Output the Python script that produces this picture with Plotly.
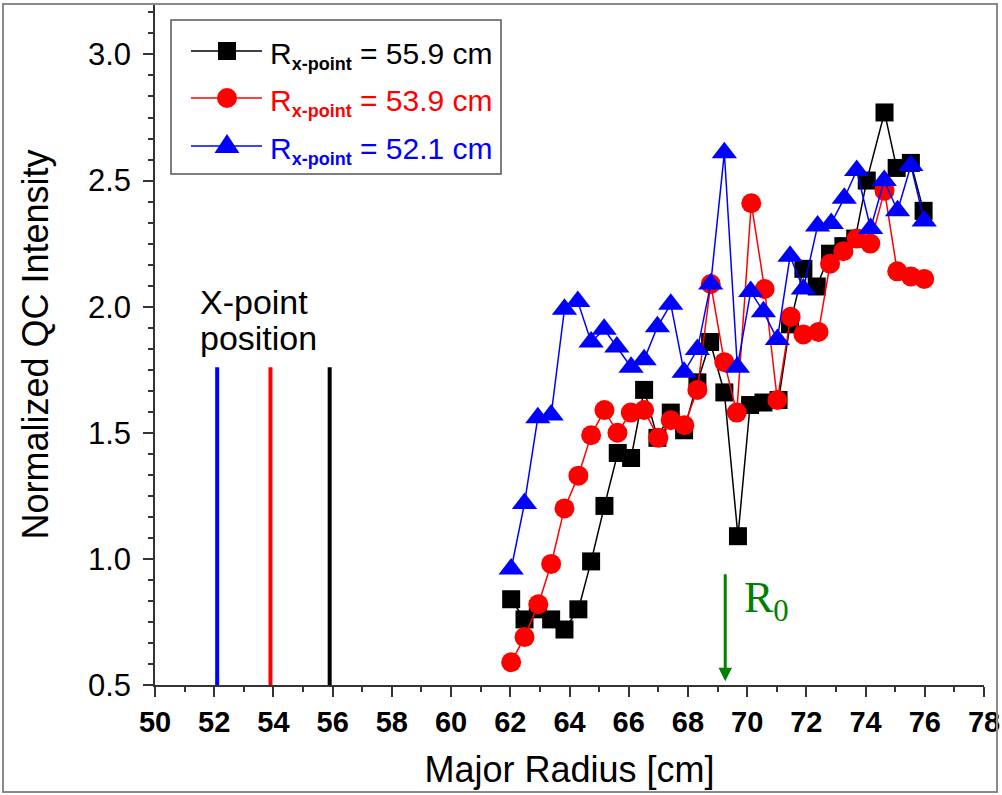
import plotly.graph_objects as go

# ---------------- data ----------------
black_x = [62.03, 62.48, 62.93, 63.38, 63.83, 64.30, 64.73, 65.18, 65.63, 66.08, 66.52, 66.97,
           67.42, 67.87, 68.32, 68.75, 69.23, 69.69, 70.10, 70.55, 71.06, 71.45, 71.90, 72.35,
           72.80, 73.25, 73.65, 74.04, 74.64, 75.05, 75.53, 75.96]
black_y = [0.84, 0.76, 0.80, 0.76, 0.72, 0.80, 0.99, 1.21, 1.42, 1.40, 1.67, 1.48,
           1.58, 1.51, 1.70, 1.86, 1.66, 1.09, 1.61, 1.62, 1.63, 1.93, 2.15, 2.08,
           2.21, 2.24, 2.27, 2.50, 2.77, 2.55, 2.57, 2.38]

red_x = [62.03, 62.48, 62.95, 63.38, 63.83, 64.30, 64.73, 65.18, 65.62, 66.07, 66.52, 67.00,
         67.42, 67.88, 68.32, 68.77, 69.23, 69.65, 70.14, 70.59, 71.02, 71.47, 71.90, 72.41,
         72.80, 73.25, 73.70, 74.16, 74.64, 75.07, 75.53, 75.98]
red_y = [0.59, 0.69, 0.82, 0.98, 1.20, 1.33, 1.49, 1.59, 1.50, 1.58, 1.59, 1.48,
         1.55, 1.53, 1.67, 2.09, 1.78, 1.58, 2.41, 2.07, 1.63, 1.96, 1.89, 1.90,
         2.17, 2.22, 2.27, 2.25, 2.46, 2.14, 2.12, 2.11]

blue_x = [62.03, 62.48, 62.93, 63.38, 63.83, 64.28, 64.73, 65.17, 65.60, 66.08, 66.52, 66.97,
          67.42, 67.87, 68.32, 68.77, 69.23, 69.67, 70.12, 70.55, 71.02, 71.45, 71.90, 72.38,
          72.84, 73.28, 73.70, 74.17, 74.63, 75.08, 75.53, 75.98]
blue_y = [0.96, 1.22, 1.56, 1.57, 1.99, 2.02, 1.86, 1.91, 1.84, 1.76, 1.79, 1.92,
          2.01, 1.74, 1.83, 2.09, 2.61, 1.76, 2.06, 1.98, 1.87, 2.20, 2.07, 2.32,
          2.33, 2.43, 2.54, 2.31, 2.50, 2.38, 2.56, 2.34]

series_names = ["55.9", "53.9", "52.1"]
series_colors = ["#000000", "#ff0000", "#0000ff"]
series_symbols = ["square", "circle", "triangle-up"]
series_sizes = [18, 20, 22]

xpoint_positions = [52.1, 53.9, 55.9]
xpoint_colors = ["#0000ff", "#ff0000", "#000000"]
xpoint_line_top = 1.76

r0_position = 69.26
r0_arrow_top = 0.945
r0_arrow_tip = 0.515

x_ticks = list(range(50, 79, 2))
y_ticks = [0.5, 1.0, 1.5, 2.0, 2.5, 3.0]

# ---------------- layout geometry (pixels) ----------------
W, H = 1002, 795
ML, MR, MT, MB = 155, 18, 4, 110
PW = W - ML - MR
PH = H - MT - MB


def px(xp):
    return (xp - ML) / PW


def py(yp):
    return (H - MB - yp) / PH


FONT = "Liberation Sans, Arial, sans-serif"

fig = go.Figure()

xs = [black_x, red_x, blue_x]
ys = [black_y, red_y, blue_y]
for i in range(3):
    fig.add_trace(go.Scatter(
        x=xs[i], y=ys[i], mode="lines+markers",
        line=dict(color=series_colors[i], width=1.5),
        marker=dict(symbol=series_symbols[i], size=series_sizes[i], color=series_colors[i],
                    line=dict(width=0)),
        name="R<sub>x-point</sub> = %s cm" % series_names[i],
        showlegend=False,
    ))

shapes = []
annotations = []

# X-point position vertical bars
for xv, c in zip(xpoint_positions, xpoint_colors):
    shapes.append(dict(type="line", xref="x", yref="y", x0=xv, x1=xv, y0=0.5, y1=xpoint_line_top,
                       line=dict(color=c, width=4)))

annotations.append(dict(xref="paper", yref="paper", x=px(198), y=py(302), text="X-point",
                        showarrow=False, xanchor="left", yanchor="middle",
                        font=dict(family=FONT, size=34, color="black")))
annotations.append(dict(xref="paper", yref="paper", x=px(198), y=py(338), text="position",
                        showarrow=False, xanchor="left", yanchor="middle",
                        font=dict(family=FONT, size=34, color="black")))

# R0 arrow
annotations.append(dict(x=r0_position, y=r0_arrow_tip, ax=r0_position, ay=r0_arrow_top,
                        xref="x", yref="y", axref="x", ayref="y", text="", showarrow=True,
                        arrowhead=2, arrowsize=0.9, arrowwidth=3, arrowcolor="#008000"))
annotations.append(dict(xref="paper", yref="paper", x=px(742), y=py(600),
                        text="R<sub>0</sub>", showarrow=False, xanchor="left", yanchor="middle",
                        font=dict(family="Liberation Serif, Times New Roman, serif", size=44,
                                  color="#008000")))

# Manual legend
shapes.append(dict(type="rect", xref="paper", yref="paper", x0=px(171), x1=px(501),
                   y0=py(20), y1=py(174), line=dict(color="#555555", width=1.5),
                   fillcolor="white", layer="above"))
row_y = [51, 98, 146]
for i in range(3):
    yy = row_y[i]
    c = series_colors[i]
    shapes.append(dict(type="line", xref="paper", yref="paper", x0=px(191), x1=px(262),
                       y0=py(yy), y1=py(yy), line=dict(color=c, width=1.5), layer="above"))
    if series_symbols[i] == "square":
        shapes.append(dict(type="rect", xref="paper", yref="paper", x0=px(218), x1=px(236),
                           y0=py(yy + 9), y1=py(yy - 9), fillcolor=c, line=dict(width=0),
                           layer="above"))
    elif series_symbols[i] == "circle":
        shapes.append(dict(type="circle", xref="paper", yref="paper", x0=px(217), x1=px(237),
                           y0=py(yy + 10), y1=py(yy - 10), fillcolor=c, line=dict(width=0),
                           layer="above"))
    else:
        path = "M %f %f L %f %f L %f %f Z" % (px(214.5), py(yy + 7), px(239.5), py(yy + 7),
                                              px(227), py(yy - 12))
        shapes.append(dict(type="path", xref="paper", yref="paper", path=path, fillcolor=c,
                           line=dict(width=0), layer="above"))
    annotations.append(dict(
        xref="paper", yref="paper", x=px(268), y=py(yy), xanchor="left", yanchor="middle",
        yshift=-5, showarrow=False,
        text="R<sub><span style='font-size:18px;font-weight:bold'>x-point</span></sub> = %s cm"
             % series_names[i],
        font=dict(family=FONT, size=30, color=c)))

# outer border
shapes.append(dict(type="rect", xref="paper", yref="paper", x0=px(3), x1=px(997),
                   y0=py(792), y1=py(4), line=dict(color="#8a8a8a", width=2),
                   fillcolor="rgba(0,0,0,0)", layer="above"))

fig.update_layout(
    width=W, height=H,
    margin=dict(l=ML, r=MR, t=MT, b=MB),
    paper_bgcolor="white", plot_bgcolor="white",
    showlegend=False,
    shapes=shapes,
    annotations=annotations,
    xaxis=dict(
        range=[50, 78], tickvals=x_ticks, ticktext=[str(v) for v in x_ticks],
        ticks="outside", ticklen=10, tickwidth=1.5, tickcolor="#333333",
        showline=True, linecolor="#333333", linewidth=1.5,
        showgrid=False, zeroline=False,
        minor=dict(dtick=1, tick0=50, ticks="outside", ticklen=5, tickwidth=1.5,
                   tickcolor="#333333", showgrid=False),
        tickfont=dict(family=FONT, size=29, color="black", weight="bold"),
        title=dict(text="Major Radius [cm]", font=dict(family=FONT, size=36, color="black"),
                   standoff=20),
        automargin=False,
    ),
    yaxis=dict(
        range=[0.5, 3.2], tickvals=y_ticks, ticktext=["%.1f" % v for v in y_ticks],
        ticks="outside", ticklen=10, tickwidth=1.5, tickcolor="#333333",
        showline=True, linecolor="#333333", linewidth=1.5,
        showgrid=False, zeroline=False,
        minor=dict(dtick=0.5 / 6, tick0=0.5, ticks="outside", ticklen=5, tickwidth=1.5,
                   tickcolor="#333333", showgrid=False),
        tickfont=dict(family=FONT, size=31, color="black"),
        ticklabelstandoff=6,
        title=dict(text="Normalized QC Intensity", font=dict(family=FONT, size=36, color="black"),
                   standoff=28),
        automargin=False,
    ),
)

fig.write_html("out.html")
